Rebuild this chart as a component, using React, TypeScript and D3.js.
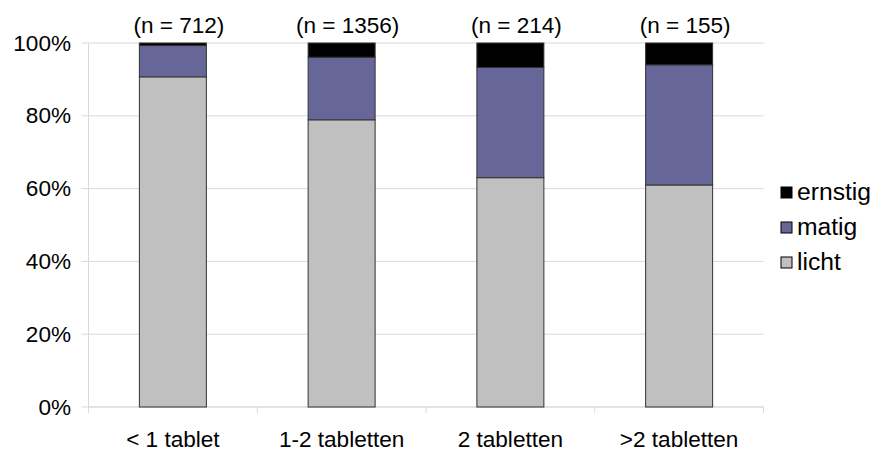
import React from "react";
import * as d3 from "d3";

const categories = ["< 1 tablet", "1-2 tabletten", "2 tabletten", ">2 tabletten"];
const counts = [712, 1356, 214, 155];
const licht = [90.7, 78.9, 63.0, 61.0];
const matig = [8.6, 17.2, 30.3, 33.0];
const ernstig = [0.7, 3.9, 6.7, 6.0];
const seriesNames = ["licht", "matig", "ernstig"];
const seriesColors = ["#c0c0c0", "#666699", "#000000"];
const yTicks = [0, 20, 40, 60, 80, 100];

const W = 881;
const H = 450;
const left = 88.5;
const right = 763.5;
const top = 43;
const bottom = 407;
const barWidth = 67;
const FONT = "'Liberation Sans', Arial, sans-serif";
const STRETCH = 1.05;

function Label({ x, y, anchor, size = 21.5, children }: any) {
  return (
    <text
      transform={`translate(${x},${y}) scale(${STRETCH},1)`}
      textAnchor={anchor}
      fontFamily={FONT}
      fontSize={size}
      fill="#000"
    >
      {children}
    </text>
  );
}

export default function App() {
  const x = d3.scaleBand<string>().domain(categories).range([left, right]).padding(0);
  const y = d3.scaleLinear().domain([0, 100]).range([bottom, top]);

  const rows = categories.map((c, i) => ({ cat: c, licht: licht[i], matig: matig[i], ernstig: ernstig[i] }));
  const stack = d3.stack<any>().keys(seriesNames)(rows);

  const bw = x.bandwidth();

  return (
    <svg
      width={W}
      height={H}
      style={{ position: "absolute", left: 0, top: 0, background: "#fff" }}
    >
      <rect width={W} height={H} fill="#fff" />
      {/* horizontal gridlines and y ticks */}
      {yTicks.map((t) => (
        <g key={t}>
          <line x1={left} x2={right} y1={y(t)} y2={y(t)} stroke="#d9d9d9" strokeWidth={1} />
          <line x1={left - 7} x2={left} y1={y(t)} y2={y(t)} stroke="#d9d9d9" strokeWidth={1} />
          <Label x={71} y={y(t) + 7.5} anchor="end">{`${t}%`}</Label>
        </g>
      ))}
      {/* y axis */}
      <line x1={left} x2={left} y1={top} y2={bottom} stroke="#d9d9d9" strokeWidth={1} />
      {/* x axis with category boundary ticks */}
      <line x1={left} x2={right} y1={bottom} y2={bottom} stroke="#d9d9d9" strokeWidth={1} />
      {categories.map((c, i) => (
        <line
          key={"t" + i}
          x1={x(c)!}
          x2={x(c)!}
          y1={bottom}
          y2={bottom + 6}
          stroke="#d9d9d9"
          strokeWidth={1}
        />
      ))}
      <line x1={right} x2={right} y1={bottom} y2={bottom + 6} stroke="#d9d9d9" strokeWidth={1} />

      {/* stacked bars */}
      {stack.map((layer, si) => (
        <g key={seriesNames[si]}>
          {layer.map((d, i) => {
            const h = y(d[0]) - y(d[1]);
            if (h <= 0) return null;
            return (
              <rect
                key={i}
                x={x(categories[i])! + (bw - barWidth) / 2}
                y={y(d[1])}
                width={barWidth}
                height={h}
                fill={seriesColors[si]}
                stroke="#333"
                strokeWidth={1}
              />
            );
          })}
        </g>
      ))}

      {/* category labels */}
      {categories.map((c) => (
        <Label key={c} x={x(c)! + bw / 2} y={bottom + 39.5} anchor="middle">{c}</Label>
      ))}

      {/* sample sizes */}
      {categories.map((c, i) => (
        <Label key={"n" + c} x={x(c)! + bw / 2 + 6} y={33} anchor="middle">{`(n = ${counts[i]})`}</Label>
      ))}

      {/* legend */}
      {[2, 1, 0].map((si, k) => {
        const ly = 192.5 + k * 35;
        return (
          <g key={"lg" + si}>
            <rect x={781} y={ly - 5.5} width={11} height={11} fill={seriesColors[si]} stroke="#000" strokeWidth={1} />
            <Label x={797} y={ly + 7} anchor="start" size={23.5}>{seriesNames[si]}</Label>
          </g>
        );
      })}
    </svg>
  );
}
